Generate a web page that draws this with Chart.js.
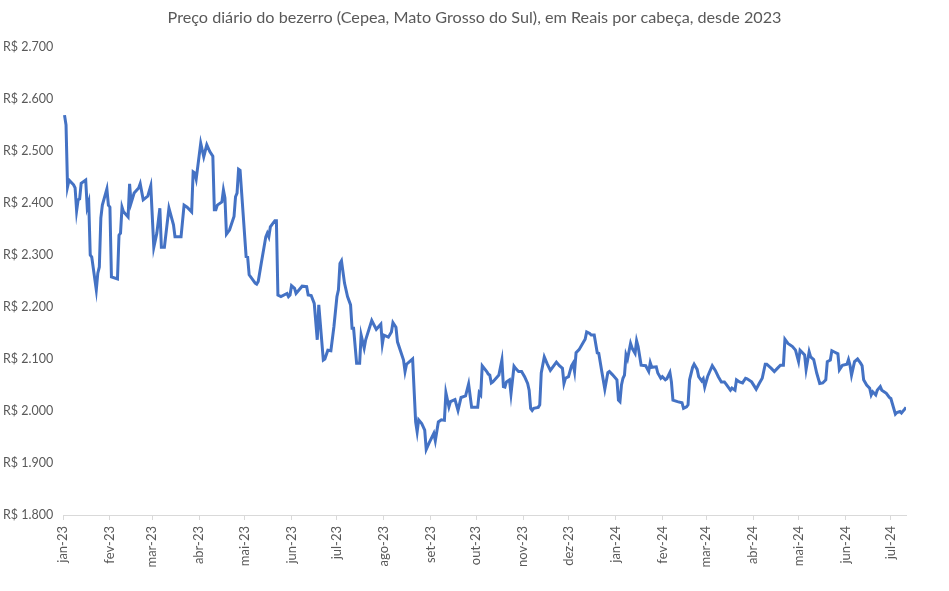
<!DOCTYPE html>
<html>
<head>
<meta charset="utf-8">
<script src="https://cdn.jsdelivr.net/npm/chart.js@4/dist/chart.umd.min.js"></script>
<style>
  html, body { margin: 0; padding: 0; background: #fff; }
  #wrap { width: 949px; height: 591px; }
</style>
</head>
<body>
<div id="wrap"><canvas id="preco"></canvas></div>
<script>
const titulo = 'Preço diário do bezerro (Cepea, Mato Grosso do Sul), em Reais por cabeça, desde 2023';

const datas = [
  '2023-01-02','2023-01-03','2023-01-04','2023-01-05','2023-01-08','2023-01-09','2023-01-10','2023-01-11','2023-01-12','2023-01-13',
  '2023-01-16','2023-01-17','2023-01-18','2023-01-19','2023-01-20','2023-01-23','2023-01-24','2023-01-25','2023-01-26','2023-01-27',
  '2023-01-30','2023-01-31','2023-02-01','2023-02-02','2023-02-06','2023-02-07','2023-02-08','2023-02-09','2023-02-10','2023-02-13',
  '2023-02-14','2023-02-15','2023-02-17','2023-02-20','2023-02-21','2023-02-23','2023-02-26','2023-02-28','2023-03-02','2023-03-04',
  '2023-03-06','2023-03-07','2023-03-09','2023-03-12','2023-03-15','2023-03-16','2023-03-20','2023-03-22','2023-03-24','2023-03-27',
  '2023-03-28','2023-03-29','2023-03-30','2023-04-02','2023-04-04','2023-04-06','2023-04-08','2023-04-10','2023-04-11','2023-04-12',
  '2023-04-13','2023-04-16','2023-04-17','2023-04-18','2023-04-19','2023-04-21','2023-04-24','2023-04-25','2023-04-26','2023-04-27',
  '2023-04-28','2023-05-02','2023-05-03','2023-05-04','2023-05-08','2023-05-09','2023-05-10','2023-05-12','2023-05-15','2023-05-16',
  '2023-05-17','2023-05-18','2023-05-21','2023-05-22','2023-05-23','2023-05-25','2023-05-29','2023-05-30','2023-05-31','2023-06-01',
  '2023-06-03','2023-06-04','2023-06-08','2023-06-11','2023-06-12','2023-06-14','2023-06-16','2023-06-18','2023-06-19','2023-06-22',
  '2023-06-23','2023-06-25','2023-06-27','2023-06-29','2023-07-01','2023-07-02','2023-07-03','2023-07-04','2023-07-06','2023-07-08',
  '2023-07-10','2023-07-11','2023-07-12','2023-07-14','2023-07-16','2023-07-17','2023-07-19','2023-07-20','2023-07-24','2023-07-27',
  '2023-07-30','2023-07-31','2023-08-01','2023-08-04','2023-08-06','2023-08-07','2023-08-09','2023-08-10','2023-08-14','2023-08-15',
  '2023-08-16','2023-08-20','2023-08-22','2023-08-23','2023-08-24','2023-08-26','2023-08-28','2023-08-29','2023-08-31','2023-09-03',
  '2023-09-04','2023-09-06','2023-09-08','2023-09-10','2023-09-11','2023-09-13','2023-09-14','2023-09-17','2023-09-19','2023-09-21',
  '2023-09-24','2023-09-26','2023-09-28','2023-10-02','2023-10-03','2023-10-04','2023-10-05','2023-10-08','2023-10-09','2023-10-10',
  '2023-10-11','2023-10-12','2023-10-15','2023-10-16','2023-10-18','2023-10-19','2023-10-20','2023-10-21','2023-10-23','2023-10-24',
  '2023-10-26','2023-10-27','2023-10-29','2023-10-31','2023-11-02','2023-11-04','2023-11-05','2023-11-06','2023-11-07','2023-11-08',
  '2023-11-11','2023-11-12','2023-11-13','2023-11-15','2023-11-17','2023-11-19','2023-11-20','2023-11-23','2023-11-25','2023-11-27',
  '2023-11-28','2023-11-29','2023-12-01','2023-12-03','2023-12-04','2023-12-05','2023-12-06','2023-12-08','2023-12-11','2023-12-12',
  '2023-12-13','2023-12-15','2023-12-16','2023-12-18','2023-12-20','2023-12-21','2023-12-23','2023-12-25','2023-12-27','2023-12-28',
  '2023-12-30','2024-01-02','2024-01-03','2024-01-04','2024-01-05','2024-01-06','2024-01-07','2024-01-08','2024-01-09','2024-01-11',
  '2024-01-12','2024-01-14','2024-01-15','2024-01-16','2024-01-18','2024-01-21','2024-01-23','2024-01-24','2024-01-25','2024-01-28',
  '2024-01-29','2024-01-31','2024-02-01','2024-02-03','2024-02-04','2024-02-06','2024-02-07','2024-02-08','2024-02-11','2024-02-14',
  '2024-02-15','2024-02-17','2024-02-18','2024-02-19','2024-02-21','2024-02-22','2024-02-24','2024-02-25','2024-02-27','2024-02-28',
  '2024-02-29','2024-03-02','2024-03-05','2024-03-07','2024-03-09','2024-03-11','2024-03-13','2024-03-14','2024-03-17','2024-03-18',
  '2024-03-20','2024-03-21','2024-03-23','2024-03-25','2024-03-27','2024-03-28','2024-03-31','2024-04-03','2024-04-05','2024-04-07',
  '2024-04-09','2024-04-10','2024-04-13','2024-04-15','2024-04-17','2024-04-19','2024-04-21','2024-04-22','2024-04-24','2024-04-27',
  '2024-04-29','2024-05-01','2024-05-02','2024-05-03','2024-05-05','2024-05-06','2024-05-08','2024-05-09','2024-05-11','2024-05-13',
  '2024-05-15','2024-05-17','2024-05-19','2024-05-20','2024-05-22','2024-05-23','2024-05-25','2024-05-27','2024-05-28','2024-05-30',
  '2024-06-02','2024-06-03','2024-06-04','2024-06-05','2024-06-07','2024-06-09','2024-06-11','2024-06-12','2024-06-13','2024-06-15',
  '2024-06-17','2024-06-18','2024-06-19','2024-06-21','2024-06-22','2024-06-24','2024-06-25','2024-06-26','2024-06-28','2024-06-30',
  '2024-07-01','2024-07-02','2024-07-04','2024-07-05','2024-07-07','2024-07-08','2024-07-10','2024-07-11'
];

const precos = [
  2569,2550,2431,2444,2435,2429,2385,2406,2408,2438,
  2444,2392,2402,2300,2296,2233,2265,2277,2371,2396,
  2427,2396,2392,2258,2254,2338,2342,2392,2383,2373,
  2437,2400,2419,2429,2437,2406,2413,2433,2315,2342,
  2390,2315,2315,2390,2358,2335,2335,2396,2392,2383,
  2460,2458,2446,2515,2489,2512,2499,2490,2387,2387,
  2396,2402,2425,2410,2340,2348,2374,2412,2419,2465,
  2463,2297,2296,2262,2246,2244,2249,2284,2335,2342,
  2335,2354,2366,2366,2223,2220,2226,2220,2223,2241,
  2236,2226,2240,2239,2223,2222,2207,2137,2204,2098,
  2100,2117,2116,2162,2220,2233,2284,2289,2246,2220,
  2204,2159,2159,2092,2092,2146,2121,2137,2174,2157,
  2167,2129,2146,2142,2152,2170,2161,2133,2098,2076,
  2090,2100,1979,1960,1983,1976,1963,1926,1939,1957,
  1943,1979,1983,1982,2035,2008,2018,2022,2001,2026,
  2029,2052,2007,2007,2035,2031,2087,2076,2071,2069,
  2054,2056,2066,2069,2098,2047,2046,2056,2060,2033,
  2086,2082,2076,2076,2066,2053,2040,2005,2001,2005,
  2007,2012,2073,2104,2090,2078,2082,2094,2087,2082,
  2053,2063,2066,2087,2092,2076,2112,2118,2133,2138,
  2152,2149,2146,2146,2112,2111,2076,2042,2074,2076,
  2070,2060,2021,2018,2050,2063,2069,2108,2100,2130,
  2121,2111,2135,2124,2088,2087,2076,2093,2084,2085,
  2073,2063,2066,2060,2062,2074,2056,2021,2018,2016,
  2005,2008,2012,2060,2084,2090,2080,2066,2058,2062,
  2046,2067,2087,2078,2066,2056,2056,2052,2040,2044,
  2040,2060,2056,2054,2063,2062,2056,2042,2053,2063,
  2090,2090,2082,2076,2082,2088,2088,2138,2130,2124,
  2117,2095,2117,2114,2108,2080,2114,2104,2099,2073,
  2053,2054,2060,2095,2098,2116,2113,2110,2079,2088,
  2090,2099,2088,2069,2095,2100,2092,2087,2060,2050,
  2044,2031,2037,2031,2040,2047,2040,2038,2034,2026,
  2024,2014,1994,1997,1999,1996,2003,2007
];

const meses = ['2023-01-01','2023-02-01','2023-03-01','2023-04-01','2023-05-01','2023-06-01','2023-07-01','2023-08-01','2023-09-01','2023-10-01',
  '2023-11-01','2023-12-01','2024-01-01','2024-02-01','2024-03-01','2024-04-01','2024-05-01','2024-06-01','2024-07-01'];
const rotulosMeses = ['jan-23','fev-23','mar-23','abr-23','mai-23','jun-23','jul-23','ago-23','set-23','out-23',
  'nov-23','dez-23','jan-24','fev-24','mar-24','abr-24','mai-24','jun-24','jul-24'];

const yMin = 1800, yMax = 2700, yPasso = 100;

// dias desde 1/jan/2023, para usar eixo linear como eixo de datas
const base = Date.UTC(2023, 0, 1);
function dia(s) {
  const p = s.split('-').map(Number);
  return Math.round((Date.UTC(p[0], p[1] - 1, p[2]) - base) / 86400000);
}
const diasMeses = meses.map(dia);
const pontos = datas.map((d, i) => ({ x: dia(d), y: precos[i] }));

function reais(v) {
  const mil = Math.floor(v / 1000);
  return 'R$ ' + mil + '.' + String(v % 1000).padStart(3, '0');
}

const cinza = '#595959';
const fonte = 'Lato, "Noto Sans", sans-serif';
Chart.defaults.font.family = fonte;
Chart.defaults.color = cinza;

// título centrado na largura toda do gráfico, como no Excel
const tituloCentral = {
  id: 'tituloCentral',
  afterDraw(chart) {
    const ctx = chart.ctx;
    ctx.save();
    ctx.font = '16.2px ' + fonte;
    ctx.fillStyle = cinza;
    ctx.textAlign = 'center';
    ctx.textBaseline = 'middle';
    ctx.fillText(titulo, chart.width / 2, 18);
    ctx.restore();
  }
};

new Chart(document.getElementById('preco'), {
  type: 'line',
  data: {
    datasets: [{
      data: pontos,
      borderColor: '#4472C4',
      borderWidth: 3,
      pointRadius: 0,
      tension: 0,
      fill: false
    }]
  },
  plugins: [tituloCentral],
  options: {
    responsive: true,
    maintainAspectRatio: false,
    animation: false,
    layout: { padding: { left: 3, right: 43, top: 47, bottom: 0 } },
    plugins: {
      legend: { display: false },
      tooltip: { enabled: false },
      title: { display: false }
    },
    scales: {
      x: {
        type: 'linear',
        min: 0,
        max: dia(datas[datas.length - 1]),
        afterBuildTicks: s => { s.ticks = diasMeses.map(v => ({ value: v })); },
        afterFit: s => { s.height = 76; },
        ticks: {
          autoSkip: false,
          minRotation: 90,
          maxRotation: 90,
          padding: 6,
          font: { size: 13 },
          callback: v => rotulosMeses[diasMeses.indexOf(v)]
        },
        grid: { drawOnChartArea: false, drawTicks: true, tickLength: 5, color: '#d9d9d9' },
        border: { display: true, color: '#d9d9d9', width: 1 }
      },
      y: {
        min: yMin,
        max: yMax,
        afterFit: s => { s.width = 60; },
        ticks: {
          stepSize: yPasso,
          crossAlign: 'far',
          font: { size: 12.5 },
          callback: v => reais(v)
        },
        grid: { display: false },
        border: { display: false }
      }
    }
  }
});
</script>
</body>
</html>
